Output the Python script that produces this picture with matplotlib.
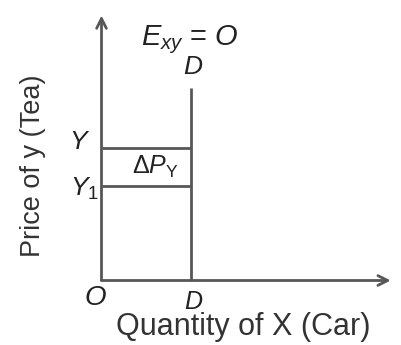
import matplotlib
matplotlib.use("Agg")
import matplotlib.pyplot as plt

plt.rcParams['font.family'] = ['Liberation Sans', 'DejaVu Sans']
plt.rcParams['mathtext.fontset'] = 'custom'
plt.rcParams['mathtext.it'] = 'Liberation Sans:italic'
plt.rcParams['mathtext.rm'] = 'Liberation Sans'

# Data (diagram quantities)
demand_qty = 1.0             # fixed quantity D of X
price_levels = [1.0, 0.715]  # Y, Y1
demand_top = 1.45
x_axis_end = 3.25
y_axis_end = 2.0

LC = '#575757'
LW = 2.0

fig = plt.figure(figsize=(4.01, 3.45), dpi=100)
ax = fig.add_axes([0, 0, 1, 1])
ax.set_axis_off()
sx, sy = 89.0, 132.5
ox, oy = 101.5, 345 - 280.5
ax.set_xlim(-ox / sx, (401 - ox) / sx)
ax.set_ylim(-oy / sy, (345 - oy) / sy)

arrow = dict(arrowstyle='->,head_length=0.7,head_width=0.35', color=LC, lw=LW,
             shrinkA=0, shrinkB=0)
ax.annotate('', xy=(x_axis_end, 0), xytext=(0, 0), arrowprops=arrow)
ax.annotate('', xy=(0, y_axis_end), xytext=(0, 0), arrowprops=arrow)

ax.plot([demand_qty, demand_qty], [0, demand_top], color=LC, lw=LW, solid_capstyle='butt')
for p in price_levels:
    ax.plot([0, demand_qty], [p, p], color=LC, lw=LW, solid_capstyle='butt')

tc = '#222222'
ax.text(-0.26, price_levels[0] + 0.045, 'Y', fontsize=19, style='italic', ha='center', va='center', color=tc)
ax.text(-0.19, price_levels[1] - 0.02, r'$Y_{\mathregular{1}}$', fontsize=19, ha='center', va='center', color=tc)
ax.text(-0.075, -0.132, 'O', fontsize=20, style='italic', ha='center', va='center', color=tc)
ax.text(demand_qty + 0.03, -0.16, 'D', fontsize=18, style='italic', ha='center', va='center', color=tc)
ax.text(demand_qty + 0.02, 1.61, 'D', fontsize=19, style='italic', ha='center', va='center', color=tc)
ax.text(0.99, 1.82, r'$E_{xy}$ = $O$', fontsize=21, ha='center', va='center', color=tc)
ax.text(0.60, (price_levels[0] + price_levels[1]) / 2,
        r'$\Delta P_{\mathregular{Y}}$', fontsize=18, ha='center', va='center', color=tc)

ax.text(1.59, -0.35, 'Quantity of X (Car)', fontsize=22, ha='center', va='center', color='#333333')
ax.text(-0.77, 0.864, 'Price of y (Tea)', fontsize=19.5, ha='center', va='center', rotation=90, color='#333333')

fig.savefig('out.png', dpi=100)
